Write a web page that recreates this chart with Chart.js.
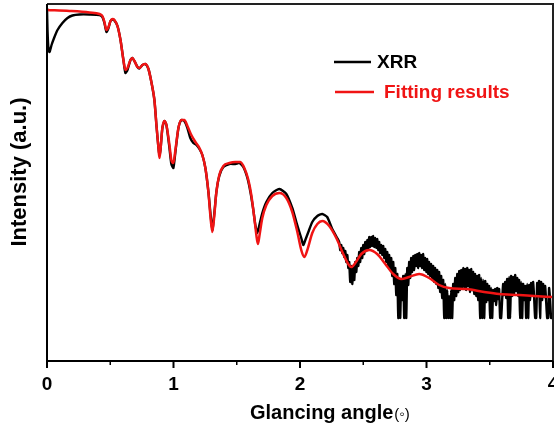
<!DOCTYPE html>
<html>
<head>
<meta charset="utf-8">
<script src="https://cdn.jsdelivr.net/npm/chart.js@4/dist/chart.umd.min.js"></script>
<style>
html,body{margin:0;padding:0;background:#fff;overflow:hidden;width:554px;height:425px;}
#wrap{position:absolute;left:0;top:0;width:580px;height:425px;}
</style>
</head>
<body>
<div id="wrap"><canvas id="c" width="580" height="425"></canvas></div>
<script>
// Glancing angle (degrees) and measured XRR intensity (a.u., linear height units of the plot)
const xrrAngle = [
 0.000,0.004,0.012,0.020,0.036,0.059,0.083,0.122,0.162,0.201,
 0.257,0.336,0.415,0.438,0.454,0.470,0.486,0.502,0.517,0.533,
 0.557,0.581,0.604,0.620,0.636,0.660,0.675,0.691,0.715,0.731,
 0.754,0.778,0.802,0.825,0.849,0.865,0.881,0.889,0.897,0.912,
 0.928,0.944,0.968,0.983,0.999,1.015,1.039,1.062,1.086,1.110,
 1.133,1.157,1.181,1.205,1.228,1.252,1.276,1.291,1.307,1.323,
 1.339,1.362,1.394,1.442,1.489,1.520,1.552,1.584,1.608,1.631,
 1.647,1.663,1.679,1.702,1.734,1.781,1.837,1.892,1.939,1.971,
 1.995,2.010,2.026,2.042,2.066,2.097,2.137,2.176,2.215,2.255,
 2.294,
 2.310,2.318,2.326,2.334,2.342,2.350,2.358,2.366,2.374,2.382,
 2.389,2.397,2.405,2.413,2.421,2.429,2.437,2.445,2.453,2.461,
 2.468,2.476,2.484,2.492,2.500,2.508,2.516,2.524,2.532,2.540,
 2.547,2.555,2.563,2.571,2.579,2.587,2.595,2.603,2.611,2.619,
 2.626,2.634,2.642,2.650,2.658,2.666,2.674,2.682,2.690,2.698,
 2.705,2.713,2.721,2.729,2.737,2.745,2.753,2.761,2.769,2.777,
 2.784,2.792,2.800,2.808,2.816,2.824,2.832,2.840,2.848,2.856,
 2.863,2.871,2.879,2.887,2.895,2.903,2.911,2.919,2.927,2.935,
 2.942,2.950,2.958,2.966,2.974,2.982,2.990,2.998,3.006,3.014,
 3.021,3.029,3.037,3.045,3.053,3.061,3.069,3.077,3.085,3.093,
 3.100,3.108,3.116,3.124,3.132,3.140,3.148,3.156,3.164,3.172,
 3.179,3.187,3.195,3.203,3.211,3.219,3.227,3.235,3.243,3.251,
 3.258,3.266,3.274,3.282,3.290,3.298,3.306,3.314,3.322,3.330,
 3.337,3.345,3.353,3.361,3.369,3.377,3.385,3.393,3.401,3.409,
 3.416,3.424,3.432,3.440,3.448,3.456,3.464,3.472,3.480,3.488,
 3.495,3.503,3.511,3.519,3.527,3.535,3.543,3.551,3.559,3.567,
 3.574,3.582,3.590,3.598,3.606,3.614,3.622,3.630,3.638,3.646,
 3.653,3.661,3.669,3.677,3.685,3.693,3.701,3.709,3.717,3.725,
 3.732,3.740,3.748,3.756,3.764,3.772,3.780,3.788,3.796,3.804,
 3.811,3.819,3.827,3.835,3.843,3.851,3.859,3.867,3.875,3.883,
 3.890,3.898,3.906,3.914,3.922,3.930,3.938,3.946,3.954,3.962,
 3.969,3.977,3.985,3.993
];
const xrrIntensity = [
 353,331,311,309,316,324,331,338,343,345.5,
 346.5,346.5,346,344,338,329,333,340,341.5,340.5,
 335,321,301,288,291,301,303,300,294,292.5,
 296,297,292,279,261,236,213,206,211,233,
 240,236,213,197,193,209,233,241,240,233,
 223,218,216,212,206,193,169,149,131,148,
 169,185,194,197,197,198,194,183,169,151,
 136,128,136,148,159,168,172,167,153,139,
 129,123,116,121,129,139,145,147,144,132,
 123,
 119,111,116,108,113,104,110,99,106,93,
 99,79,95,77,93,81,99,89,103,95,
 109,99,113,103,116,107,119,110,121,112,
 124,114,124,115,125,114,123,113,122,111,
 119,108,116,106,115,103,112,99,109,95,
 106,91,103,85,99,77,93,66,87,43,
 83,43,81,61,85,43,87,43,93,76,
 99,83,103,89,105,91,106,95,107,93,
 108,95,106,93,107,91,103,89,102,87,
 99,85,97,83,95,79,93,77,91,73,
 89,69,85,63,81,43,77,43,71,43,
 65,43,71,43,77,61,83,65,87,69,
 90,71,91,73,93,74,92,71,93,75,
 91,69,92,71,89,67,87,65,85,61,
 86,43,83,43,81,43,80,59,77,61,
 75,43,73,43,71,60,72,56,73,62,
 72,43,43,61,77,66,79,63,82,43,
 84,43,85,65,84,67,86,70,83,65,
 81,43,79,43,77,61,75,43,77,43,
 76,61,78,66,79,63,43,43,78,65,
 80,43,79,61,77,64,75,59,43,43,
 73,61,43,43
];
// Fitting results
const fitAngle = [
 0.000,0.178,0.336,0.415,0.438,0.454,0.470,0.486,0.502,0.517,
 0.533,0.557,0.581,0.604,0.620,0.636,0.660,0.675,0.691,0.715,
 0.731,0.754,0.778,0.802,0.825,0.849,0.865,0.881,0.889,0.897,
 0.912,0.928,0.944,0.968,0.983,0.999,1.015,1.039,1.062,1.086,
 1.110,1.141,1.173,1.205,1.228,1.252,1.276,1.291,1.307,1.323,
 1.339,1.362,1.394,1.442,1.489,1.528,1.560,1.592,1.615,1.639,
 1.655,1.667,1.679,1.702,1.734,1.781,1.837,1.892,1.939,1.979,
 2.010,2.034,2.058,2.097,2.137,2.176,2.231,2.287,2.342,2.381,
 2.405,2.437,2.484,2.547,2.610,2.674,2.737,2.800,2.863,2.942,
 3.021,3.100,3.179,3.314,3.456,3.574,3.732,3.851,3.993
];
const fitIntensity = [
 351,350,348.5,347,345,339,331,334,340,342,
 341,335,321,301,291,293,301,303,300,294,
 293,296,297,292,279,261,236,213,203,211,
 233,240,236,216,201,198,211,233,241,241,
 235,226,219,213,206,193,169,146,129,146,
 169,186,195,198,199,199,193,181,166,143,
 126,117,125,143,156,165,168,163,149,129,
 111,104,111,128,137,140,135,123,107,97,
 94,98,107,111,107,97,87,82,84,87,
 83,76,73,72,69,67,66,65,64
];
const xTicks = [0, 1, 2, 3, 4];
const xMinorTicks = [0.5, 1.5, 2.5, 3.5];
const seriesNames = ['XRR', 'Fitting results'];
const xTitleMain = 'Glancing angle';
const xTitleUnit = '(\u25E6)';
const yTitle = 'Intensity (a.u.)';

const FONT = 'Arial, "Liberation Sans", Helvetica, sans-serif';
const RED = '#f01414';

const toPts = (xs, ys) => xs.map((x, i) => ({x: x, y: ys[i]}));

const framePlugin = {
  id: 'frame',
  afterDatasetsDraw(chart) {
    const {ctx, chartArea: a, scales} = chart;
    const xs = scales.x;
    ctx.save();
    ctx.strokeStyle = '#222';
    ctx.lineWidth = 2;
    ctx.beginPath();
    ctx.moveTo(a.left, a.top); ctx.lineTo(a.right, a.top); ctx.lineTo(a.right, a.bottom);
    ctx.stroke();
    ctx.strokeStyle = '#000';
    ctx.beginPath();
    ctx.moveTo(a.left, a.top); ctx.lineTo(a.left, a.bottom); ctx.lineTo(a.right, a.bottom);
    ctx.stroke();
    ctx.lineWidth = 2;
    xTicks.forEach(v => {
      const p = xs.getPixelForValue(v);
      ctx.beginPath(); ctx.moveTo(p, a.bottom); ctx.lineTo(p, a.bottom + 7); ctx.stroke();
    });
    ctx.lineWidth = 1.5;
    xMinorTicks.forEach(v => {
      const p = xs.getPixelForValue(v);
      ctx.beginPath(); ctx.moveTo(p, a.bottom); ctx.lineTo(p, a.bottom + 4); ctx.stroke();
    });
    const items = [
      {y: 62, color: '#000', x1: 334, x2: 371, tx: 377, text: seriesNames[0], textColor: '#000'},
      {y: 92, color: RED, x1: 335, x2: 374, tx: 384, text: seriesNames[1], textColor: RED}
    ];
    ctx.textBaseline = 'middle';
    ctx.textAlign = 'left';
    ctx.font = 'bold 19px ' + FONT;
    items.forEach(it => {
      ctx.strokeStyle = it.color; ctx.lineWidth = 2.5;
      ctx.beginPath(); ctx.moveTo(it.x1, it.y); ctx.lineTo(it.x2, it.y); ctx.stroke();
      ctx.fillStyle = it.textColor;
      ctx.fillText(it.text, it.tx, it.y + 1);
    });
    ctx.fillStyle = '#000';
    ctx.font = 'bold 20px ' + FONT;
    ctx.fillText(xTitleMain, 250, 413);
    const w = ctx.measureText(xTitleMain).width;
    ctx.font = '15px ' + FONT;
    ctx.fillText(xTitleUnit, 250 + w + 1, 415);
    ctx.save();
    ctx.translate(20, 172);
    ctx.rotate(-Math.PI / 2);
    ctx.textAlign = 'center';
    ctx.font = 'bold 22px ' + FONT;
    ctx.fillText(yTitle, 0, 0);
    ctx.restore();
    ctx.restore();
  }
};

new Chart(document.getElementById('c'), {
  type: 'line',
  data: {
    datasets: [
      {
        label: seriesNames[1],
        data: toPts(fitAngle, fitIntensity),
        borderColor: RED,
        borderWidth: 2.5,
        pointRadius: 0,
        cubicInterpolationMode: 'monotone',
        fill: false,
        order: 0
      },
      {
        label: seriesNames[0],
        data: toPts(xrrAngle, xrrIntensity),
        borderColor: '#000',
        borderWidth: 2.4,
        pointRadius: 0,
        tension: 0.2,
        fill: false,
        order: 1
      }
    ]
  },
  options: {
    responsive: false,
    animation: false,
    devicePixelRatio: 1,
    layout: {padding: {left: 47, top: 4, right: 27, bottom: 0}},
    plugins: {legend: {display: false}, tooltip: {enabled: false}},
    scales: {
      x: {
        type: 'linear', min: 0, max: 4,
        afterFit(s) { s.height = 64; },
        grid: {display: false, drawTicks: true, tickLength: 8},
        border: {display: false},
        ticks: {
          stepSize: 1, padding: 4, color: '#000',
          font: {family: FONT, size: 19, weight: 'bold'},
          maxRotation: 0
        }
      },
      y: {
        type: 'linear', min: 0, max: 357, display: false
      }
    }
  },
  plugins: [framePlugin]
});
</script>
</body>
</html>
